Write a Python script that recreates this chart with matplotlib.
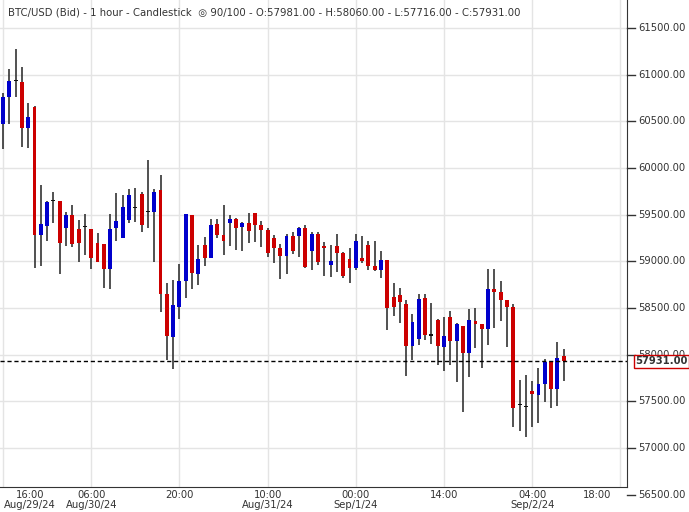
import matplotlib
matplotlib.use("Agg")
import matplotlib.pyplot as plt
from matplotlib.patches import Rectangle

opens = [60468,60764,60929,60921,60432,60654,59285,59382,59643,59646,59361,59496,59346,59371,59346,59200,59189,58921,59361,59254,
         59446,59568,59721,59525,59529,59764,58654,58189,58514,58793,59496,58868,59175,59039,59400,59282,59411,59454,59368,59411,
         59518,59389,59336,59250,59143,59061,59271,59275,59357,59114,59293,59164,58964,59164,59093,59025,58932,59036,59175,58954,
         58911,59014,58618,58639,58543,58096,58171,58607,58204,58371,58086,58404,58150,58307,58021,58361,58329,58278,58704,58671,
         58586,58511,57457,57439,57611,57571,57682,57918,57636,57981]
closes = [60764,60932,60929,60432,60546,59285,59400,59636,59643,59200,59496,59189,59200,59371,59039,58996,58921,59346,59432,59582,
          59711,59568,59393,59525,59743,58654,58203,58532,58793,59507,58879,59025,59039,59389,59286,59221,59454,59361,59411,59329,
          59393,59339,59093,59146,59061,59271,59114,59357,58939,59293,58996,59146,59000,59093,58846,58932,59221,59007,58954,58911,
          59014,58504,58514,58568,58096,58350,58596,58214,58204,58096,58200,58150,58329,58021,58371,58332,58278,58704,58675,58589,
          58514,57432,57457,57439,57579,57686,57918,57636,57964,57931]
highs = [60804,61061,61275,61082,60696,60664,59818,59646,59743,59646,59529,59604,59443,59507,59346,59307,59189,59507,59732,59711,
         59775,59786,59743,60086,59775,59925,58771,58800,58975,59507,59496,59179,59264,59454,59450,59604,59496,59464,59421,59518,
         59518,59432,59357,59282,59186,59293,59314,59368,59389,59314,59314,59207,59175,59293,59104,59146,59293,59271,59218,59218,
         59111,59014,58771,58718,58586,58439,58650,58650,58554,58382,58404,58468,58339,58307,58489,58500,58329,58918,58918,58789,
         58586,58543,57732,57782,57718,57861,57957,57936,58139,58060]
lows = [60204,60468,60764,60228,60218,58932,58953,59221,59414,58868,59168,59157,58996,59071,58921,58996,58718,58707,59221,59254,
        59414,59425,59318,59361,58996,58461,57946,57850,58386,58611,58707,58750,58953,59082,59250,59071,59168,59125,59114,59200,
        59211,59157,59050,58986,58814,58868,59082,59050,58932,58911,58960,58846,58836,58889,58825,58771,58911,58986,58911,58900,
        58825,58268,58418,58343,57768,57946,58100,58161,58118,57893,57828,57893,57710,57389,57764,58075,57861,58107,58289,58364,
        58086,57229,57186,57121,57229,57271,57496,57432,57454,57716]

tick_pos = [0, 14, 28, 42, 56, 70, 84, 98]
time_labels = ["16:00", "06:00", "20:00", "10:00", "00:00", "14:00", "04:00", "18:00"]
date_labels = {0: "Aug/29/24", 14: "Aug/30/24", 42: "Aug/31/24", 56: "Sep/1/24", 84: "Sep/2/24"}
y_ticks = list(range(57000, 61501, 500))
last_close = 57931.0

W, H = 689, 512
fig = plt.figure(figsize=(W/100, H/100), dpi=100)
ax = fig.add_axes([0, 1-487/H, 627/W, 487/H])
ax.set_xlim(-0.48, 99.05)
ax.set_ylim(56582, 61800)

for y in y_ticks + [56500]:
    ax.axhline(y, color="#e4e4e4", lw=1, zorder=0)
for x in tick_pos:
    ax.axvline(x, color="#e4e4e4", lw=1, zorder=0)

bw = 0.62
for i, (o, c, h, l) in enumerate(zip(opens, closes, highs, lows)):
    col = "#0000cc" if c > o else ("#cc0000" if c < o else "#111111")
    ax.plot([i, i], [l, h], color="#333333", lw=1.2, zorder=2, solid_capstyle="butt")
    bot = min(o, c)
    hgt = max(abs(c - o), 12)
    ax.add_patch(Rectangle((i - bw/2, bot), bw, hgt, color=col, zorder=3, lw=0))

ax.axhline(last_close, color="black", lw=1, ls=(0, (3, 2)), zorder=4)

ax.set_xticks([])
ax.set_yticks([])
for s in ["top", "left"]:
    ax.spines[s].set_visible(False)
ax.spines["right"].set_color("#333333")
ax.spines["bottom"].set_color("#333333")

trans = ax.get_xaxis_transform()
for p, lab in zip(tick_pos, time_labels):
    xp = p
    if p == 0: xp = 4.3
    if p == 98: xp = 94.3
    ax.text(xp, -0.006, lab, transform=trans, ha="center", va="top", fontsize=7.2, color="#333333")
    if p in date_labels:
        ax.text(xp, -0.027, date_labels[p], transform=trans, ha="center", va="top", fontsize=7.2, color="#333333")

ytrans = ax.get_yaxis_transform()
for y in y_ticks + [56500]:
    ax.plot([1.0, 1.012], [y, y], transform=ytrans, color="#333333", lw=1, clip_on=False)
    ax.text(1.018, y, f"{y:.2f}", transform=ytrans, ha="left", va="center", fontsize=7.2, color="#333333", clip_on=False)

ax.text(1.013, last_close, f"{last_close:.2f}", transform=ytrans, ha="left", va="center", fontsize=7.2,
        color="#333333", fontweight="bold", zorder=6,
        bbox=dict(boxstyle="square,pad=0.15", fc="white", ec="#cc0000", lw=1), clip_on=False)

ax.text(0.012, 0.985, "BTC/USD (Bid) - 1 hour - Candlestick  \u25CE 90/100 - O:57981.00 - H:58060.00 - L:57716.00 - C:57931.00",
        transform=ax.transAxes, ha="left", va="top", fontsize=7.3, color="#333333", zorder=7)

fig.savefig("out.png", dpi=100)
